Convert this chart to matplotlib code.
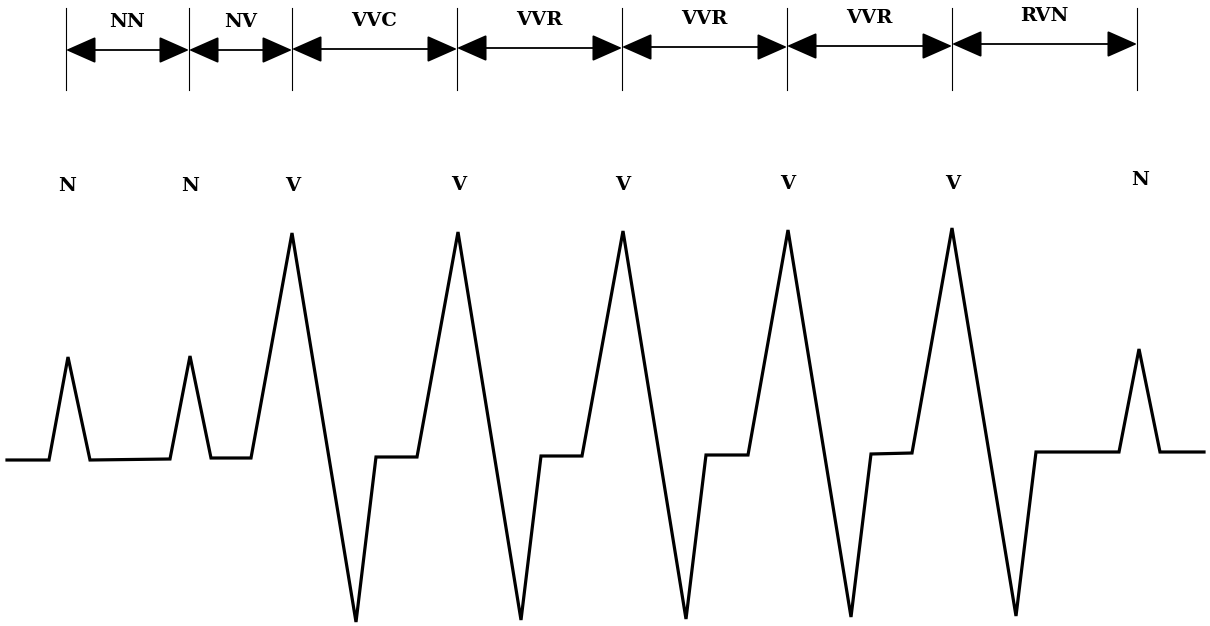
import matplotlib.pyplot as plt

# segment boundaries (x) and interval names along the top
bounds = [66, 189, 292, 457, 622, 787, 952, 1137]
seg_names = ["NN", "NV", "VVC", "VVR", "VVR", "VVR", "RVN"]
arrow_y = [50, 50, 49, 48, 47, 46, 44]

# beat labels above the trace
beat_x = [67, 190, 293, 459, 623, 788, 953, 1140]
beat_y = [186, 186, 186, 185, 185, 184, 184, 180]
beat_names = ["N", "N", "V", "V", "V", "V", "V", "N"]

# trace vertices
trace_x = [7, 49, 68, 90, 170, 190, 211, 251, 292, 356, 376, 417,
           458, 521, 541, 582, 623, 686, 706, 748, 788, 851, 871, 912,
           952, 1016, 1036, 1119, 1139, 1160, 1204]
trace_y = [460, 460, 357, 460, 459, 356, 458, 458, 233, 622, 457, 457,
           232, 620, 456, 456, 231, 619, 455, 455, 230, 617, 454, 453,
           228, 616, 452, 452, 349, 452, 452]

fig = plt.figure(figsize=(12.1, 6.26), dpi=100)
ax = fig.add_axes([0, 0, 1, 1])
ax.set_xlim(0, 1210)
ax.set_ylim(626, 0)
ax.axis("off")

font = dict(family="DejaVu Serif", fontsize=14, fontweight="bold")

for x in bounds:
    ax.plot([x, x], [8, 90], color="black", lw=0.8)

for i, name in enumerate(seg_names):
    x0, x1 = bounds[i], bounds[i + 1]
    y = arrow_y[i]
    ax.annotate("", xy=(x1, y), xytext=(x0, y),
                arrowprops=dict(arrowstyle="<|-|>,head_length=0.95,head_width=0.42",
                                mutation_scale=20, color="black", lw=1.3,
                                shrinkA=0, shrinkB=0))
    ax.text((x0 + x1) / 2, y - 28, name, ha="center", va="center", **font)

for x, y, name in zip(beat_x, beat_y, beat_names):
    ax.text(x, y, name, ha="center", va="center", **font)

ax.plot(trace_x, trace_y, color="black", lw=2.3, solid_joinstyle="miter")

fig.savefig("out.png", dpi=100)
